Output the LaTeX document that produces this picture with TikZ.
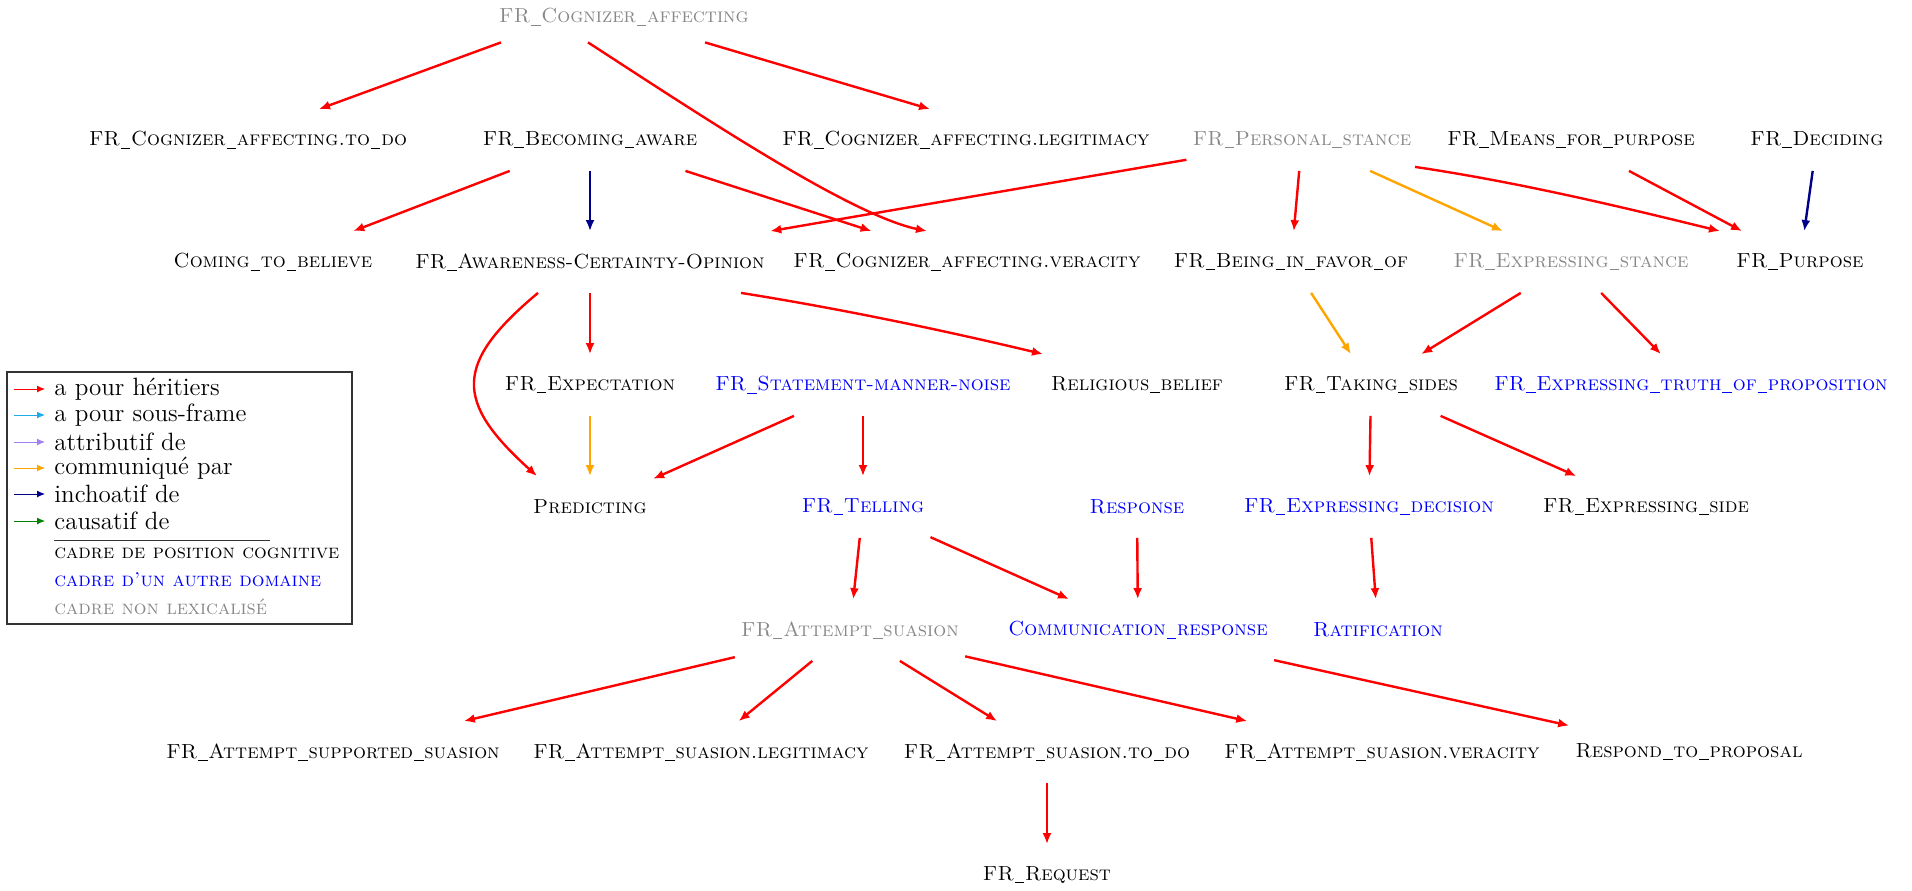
\documentclass[tikz,border=0pt]{standalone}
\usepackage{fontspec}
\usetikzlibrary{arrows.meta,calc}
\definecolor{cred}{RGB}{255,0,0}
\definecolor{cblue}{RGB}{0,0,255}
\definecolor{cgray}{RGB}{136,136,136}
\definecolor{corange}{RGB}{255,165,0}
\definecolor{cnavy}{RGB}{0,0,139}
\definecolor{csky}{RGB}{30,170,235}
\definecolor{clav}{RGB}{160,128,240}
\definecolor{cgreen}{RGB}{0,128,0}
\newcommand{\frus}{\kern0.4pt\rule[-1.3pt]{4.8pt}{0.45pt}\kern0.4pt}
\begin{document}
\begin{tikzpicture}[x=0.5pt,y=-0.5pt,
  fr/.style={rectangle, inner xsep=3pt, inner ysep=0pt, minimum height=30.5pt,
    font=\fontsize{10.2}{12}\selectfont\scshape},
  cog/.style={fr, text=black},
  oth/.style={fr, text=cblue},
  nlx/.style={fr, text=cgray},
  edge/.style={line width=1.2pt, -{Latex[length=5.5pt,width=4.5pt]}},
  inh/.style={edge, draw=cred},
  com/.style={edge, draw=corange},
  inc/.style={edge, draw=cnavy},
  lgarrow/.style={line width=0.5pt, -{Latex[length=4pt,width=3.5pt]}},
  lgtext/.style={anchor=west, inner sep=0pt, font=\fontsize{12.5}{13}\selectfont},
  lgcadre/.style={anchor=west, inner sep=0pt, font=\fontsize{10}{12}\selectfont\scshape},
]
\useasboundingbox (0,0) rectangle (1912,890);

% nodes
\node[nlx, minimum height=25pt] (ca) at (624,17) {FR\frus Cognizer\frus affecting};
\node[cog] (ctd) at (248,140) {FR\frus Cognizer\frus affecting.to\frus do};
\node[cog] (ba) at (590,140) {FR\frus Becoming\frus aware};
\node[cog] (cal) at (966,140) {FR\frus Cognizer\frus affecting.legitimacy};
\node[nlx] (ps) at (1302,140) {FR\frus Personal\frus stance};
\node[cog] (mfp) at (1571,140) {FR\frus Means\frus for\frus purpose};
\node[cog] (dec) at (1817,140) {FR\frus Deciding};
\node[cog] (ctb) at (273,262) {Coming\frus to\frus believe};
\node[cog] (aco) at (590,262) {FR\frus Awareness-Certainty-Opinion};
\node[cog] (cav) at (967,262) {FR\frus Cognizer\frus affecting.veracity};
\node[cog] (bif) at (1291,262) {FR\frus Being\frus in\frus favor\frus of};
\node[nlx] (es) at (1571,262) {FR\frus Expressing\frus stance};
\node[cog] (pur) at (1800,262) {FR\frus Purpose};
\node[cog] (exp) at (590,385) {FR\frus Expectation};
\node[oth] (smn) at (863,385) {FR\frus Statement-manner-noise};
\node[cog] (rb) at (1137,385) {Religious\frus belief};
\node[cog] (ts) at (1371,385) {FR\frus Taking\frus sides};
\node[oth] (etp) at (1691,385) {FR\frus Expressing\frus truth\frus of\frus proposition};
\node[cog] (pred) at (590,507) {Predicting};
\node[oth] (tel) at (863,507) {FR\frus Telling};
\node[oth] (resp) at (1137,507) {Response};
\node[oth] (ed) at (1369,507) {FR\frus Expressing\frus decision};
\node[cog] (esd) at (1646,507) {FR\frus Expressing\frus side};
\node[nlx] (as) at (850,630) {FR\frus Attempt\frus suasion};
\node[oth] (cr) at (1138,630) {Communication\frus response};
\node[oth] (rat) at (1378,630) {Ratification};
\node[cog] (ass) at (333,752) {FR\frus Attempt\frus supported\frus suasion};
\node[cog] (asl) at (701,752) {FR\frus Attempt\frus suasion.legitimacy};
\node[cog] (astd) at (1047,752) {FR\frus Attempt\frus suasion.to\frus do};
\node[cog] (asv) at (1382,752) {FR\frus Attempt\frus suasion.veracity};
\node[cog] (rtp) at (1689,752) {Respond\frus to\frus proposal};
\node[cog] (req) at (1047,875) {FR\frus Request};

% edges
\draw[inh] ($(ca.south)+(-123,0)$) -- ($(ctd.north)+(71,0)$);
\draw[inh] ($(ca.south)+(-36,0)$) .. controls (700,115) and (850,215) .. ($(cav.north)+(-40,0)$);
\draw[inh] ($(ca.south)+(81,0)$) -- ($(cal.north)+(-36,0)$);
\draw[inh] (ba) -- (ctb);
\draw[inc] (ba) -- (aco);
\draw[inh] (ba) -- (cav);
\draw[inh] (ps) -- (aco);
\draw[inh] (ps) -- (bif);
\draw[com] (ps) -- (es);
\draw[inh] ($(ps.south)+(113,-4)$) .. controls (1517,182) and (1618,206) .. ($(pur.north)+(-80,0)$);
\draw[inh] (mfp) -- (pur);
\draw[inc] (dec) -- (pur);
\draw[inh] ($(aco.south)+(-52,0)$) .. controls (453,364) and (455,402) .. ($(pred.north)+(-53,0)$);
\draw[inh] (aco) -- (exp);
\draw[inh] ($(aco.south)+(151,0)$) .. controls (842,309) and (942,330) .. ($(rb.north)+(-94,0)$);
\draw[com] (bif) -- (ts);
\draw[inh] (es) -- (ts);
\draw[inh] (es) -- (etp);
\draw[com] (exp) -- (pred);
\draw[inh] (smn) -- (pred);
\draw[inh] (smn) -- (tel);
\draw[inh] (ts) -- (ed);
\draw[inh] (ts) -- (esd);
\draw[inh] (tel) -- (as);
\draw[inh] (tel) -- (cr);
\draw[inh] (resp) -- (cr);
\draw[inh] (ed) -- (rat);
\draw[inh] (as) -- (ass);
\draw[inh] (as) -- (asl);
\draw[inh] (as) -- (astd);
\draw[inh] (as) -- (asv);
\draw[inh] (cr) -- (rtp);
\draw[inh] (astd) -- (req);

% legend
\node[draw=black!80, line width=0.6pt, minimum width=172.5pt, minimum height=126pt, inner sep=0pt] (lg) at (179.5,498) {};
\foreach \i/\c/\t/\yy in {1/cred/a pour héritiers/389, 2/csky/a pour sous-frame/415, 3/clav/attributif de/442, 4/corange/communiqué par/468, 5/cnavy/inchoatif de/494, 6/cgreen/causatif de/521}{
  \coordinate (ls\i) at (14,\yy);
  \coordinate (le\i) at (45,\yy);
  \draw[lgarrow, draw=\c] (ls\i) -- (le\i);
  \node[lgtext] (lt\i) at (54,\yy) {\t};
}
\coordinate (sepa) at (54,540);
\coordinate (sepb) at (270,540);
\draw[black!80, line width=0.5pt] (sepa) -- (sepb);
\node[lgcadre, text=black] (lc1) at (54,553) {cadre de position cognitive};
\node[lgcadre, text=cblue] (lc2) at (54,580) {cadre d’un autre domaine};
\node[lgcadre, text=cgray] (lc3) at (54,607) {cadre non lexicalisé};
\end{tikzpicture}
\end{document}
